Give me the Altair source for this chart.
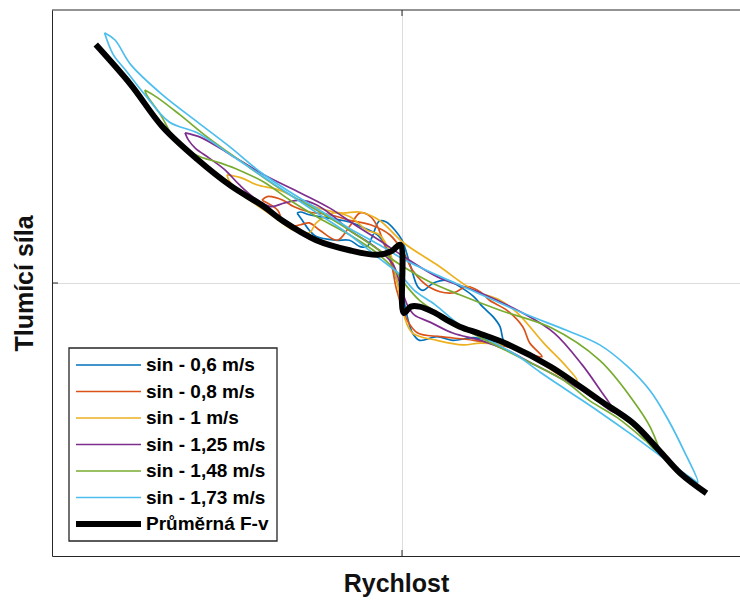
import altair as alt
import pandas as pd

series_names = ["sin - 0,6 m/s", "sin - 0,8 m/s", "sin - 1 m/s", "sin - 1,25 m/s",
                "sin - 1,48 m/s", "sin - 1,73 m/s", "Průměrná F-v"]
series_colors = ["#0072BD", "#D95319", "#EDB120", "#7E2F8E", "#77AC30", "#4DBEEE", "#000000"]

# velocity [m/s] and damping force [kN] loops
v_06 = [-0.60, -0.57, -0.53, -0.49, -0.38, -0.30, -0.24, -0.20, -0.17, -0.13, -0.09, -0.04, 0.00,
        0.05, 0.09, 0.12, 0.18, 0.26, 0.33, 0.41, 0.46, 0.52, 0.56, 0.58, 0.60,
        0.50, 0.41, 0.29, 0.20, 0.10, 0.06, 0.03, 0.01, -0.03, -0.07, -0.13, -0.21, -0.30, -0.41,
        -0.53, -0.58, -0.60]
f_06 = [0.77, 0.69, 0.58, 0.51, 0.47, 0.47, 0.40, 0.40, 0.51, 0.68, 0.67, 0.58, 0.47,
        0.18, -0.04, -0.08, 0.00, 0.03, -0.04, -0.15, -0.26, -0.37, -0.48, -0.63, -0.66,
        -0.63, -0.60, -0.63, -0.59, -0.63, -0.55, -0.37, -0.19, 0.03, 0.31, 0.51, 0.60, 0.67, 0.71,
        0.75, 0.78, 0.77]

v_08 = [-0.80, -0.77, -0.68, -0.62, -0.53, -0.41, -0.30, -0.18, -0.07, 0.01, 0.06, 0.16, 0.29, 0.37,
        0.45, 0.50, 0.60, 0.69, 0.73, 0.80,
        0.67, 0.60, 0.41, 0.22, 0.09, 0.03, -0.03, -0.06, -0.11, -0.14, -0.18, -0.24, -0.30, -0.37,
        -0.47, -0.53, -0.58, -0.64, -0.68, -0.71, -0.80]
f_08 = [0.91, 0.95, 0.91, 0.84, 0.78, 0.75, 0.69, 0.64, 0.53, 0.33, 0.14, -0.05, -0.11, -0.04,
        -0.10, -0.19, -0.30, -0.48, -0.66, -0.81,
        -0.74, -0.70, -0.63, -0.59, -0.55, -0.41, -0.08, 0.20, 0.47, 0.62, 0.73, 0.77, 0.62, 0.47,
        0.58, 0.66, 0.64, 0.62, 0.67, 0.80, 0.91]

v_10 = [-1.00, -0.91, -0.83, -0.70, -0.53, -0.35, -0.24, -0.13, 0.01, 0.20, 0.41, 0.56, 0.66, 0.81,
        0.94, 1.00,
        0.90, 0.79, 0.62, 0.45, 0.35, 0.20, 0.06, 0.01, -0.03, -0.07, -0.13, -0.20, -0.30, -0.39,
        -0.49, -0.53, -0.62, -0.75, -0.87, -0.95, -0.99, -1.00]
f_10 = [1.19, 1.15, 1.08, 1.02, 0.86, 0.77, 0.78, 0.69, 0.44, 0.20, -0.08, -0.19, -0.33, -0.66,
        -0.92, -1.07,
        -1.01, -0.87, -0.70, -0.66, -0.68, -0.63, -0.55, -0.35, 0.03, 0.34, 0.53, 0.58, 0.73, 0.77,
        0.66, 0.55, 0.58, 0.75, 0.91, 1.04, 1.13, 1.19]

v_125 = [-1.24, -1.15, -0.98, -0.79, -0.58, -0.41, -0.27, -0.13, 0.01, 0.20, 0.45, 0.69, 0.87, 1.03,
         1.16, 1.23, 1.25,
         1.19, 1.07, 0.90, 0.73, 0.60, 0.45, 0.29, 0.16, 0.07, 0.03, -0.01, -0.05, -0.13, -0.21,
         -0.30, -0.39, -0.49, -0.58, -0.67, -0.75, -0.84, -0.93, -1.01, -1.10, -1.18, -1.22, -1.24]
f_125 = [1.65, 1.60, 1.41, 1.19, 0.99, 0.82, 0.64, 0.47, 0.29, 0.07, -0.11, -0.33, -0.55, -0.90,
         -1.25, -1.43, -1.45,
         -1.40, -1.23, -1.04, -0.87, -0.74, -0.63, -0.55, -0.43, -0.35, -0.24, -0.02, 0.20, 0.36, 0.47,
         0.58, 0.73, 0.86, 0.91, 0.88, 0.84, 0.93, 1.08, 1.24, 1.37, 1.48, 1.57, 1.65]

v_148 = [-1.47, -1.40, -1.27, -1.11, -0.93, -0.70, -0.47, -0.30, -0.13, -0.01, 0.16, 0.33, 0.56, 0.85,
         1.13, 1.32, 1.42, 1.47,
         1.39, 1.23, 1.07, 0.94, 0.79, 0.56, 0.39, 0.22, 0.10, 0.02, -0.04, -0.13, -0.30, -0.47,
         -0.64, -0.79, -0.93, -1.04, -1.18, -1.30, -1.38, -1.46, -1.47]
f_148 = [2.12, 2.04, 1.85, 1.60, 1.35, 1.04, 0.78, 0.58, 0.36, 0.20, 0.01, -0.13, -0.30, -0.49,
         -0.85, -1.29, -1.59, -1.87,
         -1.73, -1.48, -1.29, -1.09, -0.93, -0.71, -0.54, -0.35, -0.19, -0.02, 0.14, 0.31, 0.53, 0.71,
         0.91, 1.11, 1.24, 1.32, 1.41, 1.59, 1.85, 2.07, 2.12]

v_173 = [-1.70, -1.64, -1.55, -1.37, -1.17, -0.98, -0.81, -0.64, -0.47, -0.30, -0.13, 0.00, 0.22, 0.41,
         0.69, 0.94, 1.13, 1.29, 1.42, 1.52, 1.61, 1.69,
         1.65, 1.47, 1.30, 1.13, 0.96, 0.79, 0.66, 0.50, 0.33, 0.19, 0.07, -0.01, -0.13, -0.30, -0.47,
         -0.64, -0.81, -0.98, -1.17, -1.33, -1.47, -1.58, -1.65, -1.70]
f_173 = [2.75, 2.67, 2.40, 2.07, 1.77, 1.49, 1.22, 1.00, 0.80, 0.60, 0.42, 0.27, 0.07, -0.09,
         -0.33, -0.52, -0.68, -0.92, -1.19, -1.50, -1.84, -2.19,
         -2.14, -1.89, -1.65, -1.42, -1.20, -0.98, -0.80, -0.63, -0.46, -0.24, -0.08, 0.09, 0.27, 0.53,
         0.75, 0.97, 1.19, 1.41, 1.65, 1.77, 2.07, 2.34, 2.51, 2.75]

v_avg = [-1.75, -1.55, -1.37, -1.17, -0.98, -0.79, -0.68, -0.49, -0.30, -0.14, -0.06, -0.01, 0.01,
         0.05, 0.10, 0.18, 0.26, 0.33, 0.45, 0.60, 0.85, 1.13, 1.32, 1.47, 1.59, 1.74]
f_avg = [2.62, 2.18, 1.72, 1.36, 1.07, 0.84, 0.68, 0.47, 0.36, 0.31, 0.35, 0.42, -0.33,
         -0.26, -0.26, -0.32, -0.41, -0.48, -0.56, -0.67, -0.92, -1.29, -1.54, -1.84, -2.09, -2.31]

loops = [(v_06, f_06), (v_08, f_08), (v_10, f_10), (v_125, f_125), (v_148, f_148), (v_173, f_173)]

rows = []
for name, (vs, fs) in zip(series_names[:6], loops):
    for i, (v, f) in enumerate(zip(vs, fs)):
        rows.append({"series": name, "v": v, "f": f, "i": i})
df_loops = pd.DataFrame(rows)
df_avg = pd.DataFrame({"series": series_names[6], "v": v_avg, "f": f_avg, "i": range(len(v_avg))})
df_leg = pd.DataFrame({"series": series_names, "k": range(len(series_names))})

W, H = 688, 546
FONT = "Liberation Sans"
xs = alt.Scale(domain=[-2.0, 1.9314], nice=False, zero=False)
ys = alt.Scale(domain=[-3.0, 3.0], nice=False, zero=False)
cs = alt.Scale(domain=series_names, range=series_colors)

x_axis = alt.Axis(title="Rychlost", labels=False, ticks=False, grid=True, values=[0],
                  titleFontSize=25, titlePadding=15)
y_axis = alt.Axis(title="Tlumící síla", labels=False, ticks=False, grid=True, values=[0],
                  titleFontSize=25, titlePadding=15)

lines = alt.Chart(df_loops).mark_line(strokeWidth=1.7, clip=True, interpolate="catmull-rom").encode(
    x=alt.X("v:Q", scale=xs, axis=x_axis),
    y=alt.Y("f:Q", scale=ys, axis=y_axis),
    color=alt.Color("series:N", scale=cs, legend=None),
    order=alt.Order("i:Q"),
)

avg = alt.Chart(df_avg).mark_line(strokeWidth=6, color="#000000", clip=True,
                                  interpolate="catmull-rom").encode(
    x=alt.X("v:Q", scale=xs, axis=x_axis),
    y=alt.Y("f:Q", scale=ys, axis=y_axis),
    order=alt.Order("i:Q"),
)

one = pd.DataFrame({"a": [0]})
top_border = alt.Chart(one).mark_rule(color="#262626", strokeWidth=1).encode(
    x=alt.value(0), x2=alt.value(W), y=alt.value(0))
tick_top = alt.Chart(one).mark_rule(color="#262626", strokeWidth=1).encode(
    x=alt.datum(0, scale=xs), y=alt.value(0), y2=alt.value(6))
tick_bot = alt.Chart(one).mark_rule(color="#262626", strokeWidth=1).encode(
    x=alt.datum(0, scale=xs), y=alt.value(H), y2=alt.value(H - 6))
tick_left = alt.Chart(one).mark_rule(color="#262626", strokeWidth=1).encode(
    y=alt.datum(0, scale=ys), x=alt.value(0), x2=alt.value(6))

leg_box = alt.Chart(one).mark_rect(fill="white", stroke="#262626", strokeWidth=1.3).encode(
    x=alt.value(17), x2=alt.value(225), y=alt.value(338), y2=alt.value(531))

leg_base = alt.Chart(df_leg).transform_calculate(
    ly="355 + 26.5 * datum.k",
    sw="datum.k == 6 ? 6 : 1.7",
)
leg_lines = leg_base.mark_rule().encode(
    x=alt.value(24), x2=alt.value(89),
    y=alt.Y("ly:Q", scale=None, axis=None),
    color=alt.Color("series:N", scale=cs, legend=None),
    strokeWidth=alt.StrokeWidth("sw:Q", scale=None, legend=None),
)
leg_text = leg_base.mark_text(align="left", baseline="middle", font=FONT, fontSize=19,
                              fontWeight="bold", color="#000000").encode(
    x=alt.value(94),
    y=alt.Y("ly:Q", scale=None, axis=None),
    text="series:N",
)

chart = alt.layer(
    lines, avg, top_border, tick_top, tick_bot, tick_left, leg_box, leg_lines, leg_text
).properties(
    width=W, height=H,
    autosize=alt.AutoSizeParams(type="none"),
    padding={"left": 52, "top": 10, "right": 0, "bottom": 45},
    background="white",
).configure_view(stroke=None).configure_axis(
    domainColor="#262626", domainWidth=1, gridColor="#dcdcdc", gridWidth=1,
    titleFont=FONT, titleFontWeight="bold", titleColor="#111111",
)

chart.save("out.html", embed_options={"renderer": "svg", "actions": False})
